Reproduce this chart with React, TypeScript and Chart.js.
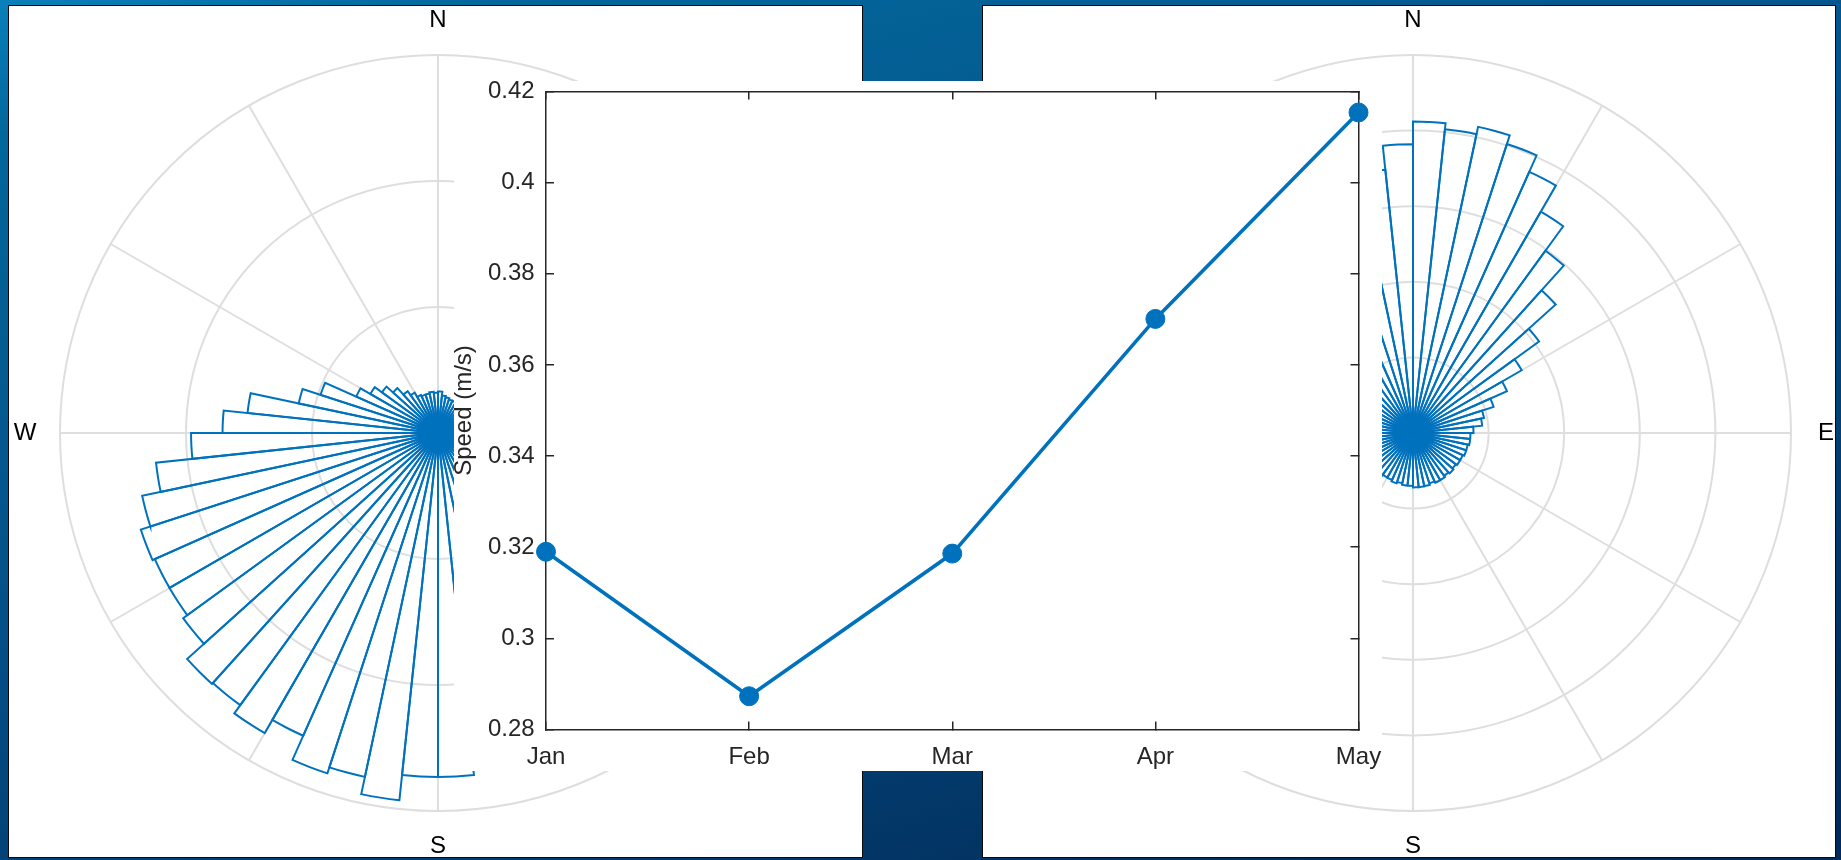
import React, { useEffect, useRef } from 'react';
import { Chart, registerables } from 'chart.js';

Chart.register(...registerables);
Chart.defaults.font.family = "'Liberation Sans', Arial, Helvetica, sans-serif";

// Monthly mean wind speed
const months = ['Jan', 'Feb', 'Mar', 'Apr', 'May'];
const meanSpeed = [0.319, 0.2873, 0.3186, 0.3701, 0.4154];
const speedTicks = [0.28, 0.3, 0.32, 0.34, 0.36, 0.38, 0.4, 0.42];

// Direction histograms: 60 bins of 6°, clockwise from north
const directionBins = Array.from({ length: 60 }, (_, i) => `${i * 6}°`);
const compassNames = ['N', 'E', 'S', 'W'];
const compassBins = [0, 15, 30, 45];

// Station A (mostly south-westerly)
const roseA = [
  3.3, 3.0, 2.9, 2.8, 2.8, 2.7, 2.7, 2.6, 2.6, 2.7,
  2.8, 2.9, 3.0, 3.1, 3.3, 3.5, 3.9, 4.4, 5.2, 6.3,
  7.8, 9.6, 11.8, 14.2, 16.9, 19.5, 21.8, 23.9, 25.6, 27.3,
  27.3, 29.3, 27.9, 28.4, 26.3, 27.5, 26.7, 26.8, 25.0, 24.6,
  24.6, 24.8, 24.0, 22.5, 19.6, 17.1, 15.2, 11.3, 9.8, 7.1,
  6.2, 5.5, 4.8, 4.1, 3.7, 3.3, 3.2, 3.2, 3.3, 3.2,
];
const roseARings = { max: 30, step: 10 };

// Station B (mostly north to north-easterly)
const roseB = [
  20.6, 20.2, 20.7, 20.1, 18.9, 16.9, 14.9, 12.7, 10.3, 8.3,
  6.8, 5.6, 4.8, 4.6, 4.0, 3.8, 3.8, 3.7, 3.7, 3.6,
  3.6, 3.5, 3.6, 3.5, 3.6, 3.6, 3.5, 3.6, 3.6, 3.6,
  3.5, 3.5, 3.4, 3.5, 3.4, 3.4, 3.5, 3.4, 3.5, 3.5,
  3.6, 3.6, 3.7, 3.7, 3.8, 3.9, 4.0, 4.2, 4.5, 5.0,
  5.6, 6.5, 7.6, 9.0, 10.6, 12.3, 14.1, 15.8, 17.5, 19.1,
];
const roseBRings = { max: 25, step: 5 };

const BLUE = '#0072BD';
const GRID = '#dedede';
const AXIS = '#262626';

const compassPlugin = {
  id: 'compassLabels',
  afterDraw(chart: any) {
    const r = chart.scales.r;
    const ctx = chart.ctx;
    ctx.save();
    ctx.font = "24px 'Liberation Sans', Arial, sans-serif";
    ctx.fillStyle = '#000';
    ctx.textAlign = 'center';
    ctx.textBaseline = 'middle';
    compassBins.forEach((idx, j) => {
      const p = r.getPointPosition(idx, r.drawingArea + 35);
      ctx.fillText(compassNames[j], p.x, p.y);
    });
    ctx.restore();
  },
};

function Rose({ values, rings, left, top }: { values: number[]; rings: { max: number; step: number }; left: number; top: number }) {
  const ref = useRef<HTMLCanvasElement>(null);
  useEffect(() => {
    const chart = new Chart(ref.current as HTMLCanvasElement, {
      type: 'polarArea',
      data: {
        labels: directionBins,
        datasets: [
          {
            data: values,
            backgroundColor: 'rgba(0,0,0,0)',
            borderColor: BLUE,
            borderWidth: 2,
            borderAlign: 'center',
            borderJoinStyle: 'miter',
          } as any,
        ],
      },
      options: {
        responsive: false,
        animation: false,
        layout: { padding: 62 },
        plugins: { legend: { display: false }, tooltip: { enabled: false } },
        scales: {
          r: {
            min: 0,
            max: rings.max,
            beginAtZero: true,
            startAngle: 0,
            ticks: { display: false, stepSize: rings.step },
            grid: { circular: true, color: GRID, lineWidth: 2 },
            angleLines: {
              display: true,
              color: GRID,
              lineWidth: (c: any) => (c.index % 5 === 0 ? 2 : 0),
            },
            pointLabels: { display: false, centerPointLabels: false },
          } as any,
        },
      },
      plugins: [compassPlugin],
    });
    return () => chart.destroy();
  }, []);
  return (
    <canvas
      ref={ref}
      width={880}
      height={880}
      style={{ position: 'absolute', left, top, width: 880, height: 880 }}
    />
  );
}

// fixes an axis' thickness and drops the overhang padding of its end labels
const fixSize = (prop: 'width' | 'height', size: number) => (s: any) => {
  s[prop] = size;
  s.paddingLeft = 0;
  s.paddingRight = 0;
  s.paddingTop = 0;
  s.paddingBottom = 0;
};

function SpeedChart() {
  const ref = useRef<HTMLCanvasElement>(null);
  useEffect(() => {
    const tickGrid = { drawOnChartArea: false, drawTicks: true, tickLength: -8, color: AXIS, lineWidth: 1.5 };
    const border = { display: true, color: AXIS, width: 1.5 };
    const setTicks = (s: any) => {
      s.ticks = speedTicks.map((v) => ({ value: v }));
    };
    const chart = new Chart(ref.current as HTMLCanvasElement, {
      type: 'line',
      data: {
        labels: months,
        datasets: [
          {
            data: meanSpeed,
            borderColor: BLUE,
            borderWidth: 3.6,
            pointRadius: 9.5,
            pointHoverRadius: 9.5,
            pointBackgroundColor: BLUE,
            pointBorderColor: BLUE,
            pointBorderWidth: 1,
            tension: 0,
            clip: false,
            xAxisID: 'x',
            yAxisID: 'y',
          } as any,
        ],
      },
      options: {
        responsive: false,
        animation: false,
        layout: { padding: { left: 0, right: 23.5, top: 9.7, bottom: 0 } },
        plugins: { legend: { display: false }, tooltip: { enabled: false } },
        scales: {
          x: {
            type: 'category',
            position: 'bottom',
            offset: false,
            grid: tickGrid,
            border,
            ticks: { color: AXIS, font: { size: 24 }, padding: 21, maxRotation: 0, autoSkip: false },
            afterFit: fixSize('height', 41.5),
          },
          xTop: {
            type: 'category',
            position: 'top',
            offset: false,
            grid: tickGrid,
            border,
            ticks: { display: false },
            afterFit: fixSize('height', 0),
          },
          y: {
            type: 'linear',
            position: 'left',
            min: 0.28,
            max: 0.42,
            afterBuildTicks: setTicks,
            grid: tickGrid,
            border,
            ticks: { color: AXIS, font: { size: 24 }, padding: 19.4, callback: (v: any) => String(v) },
            title: {
              display: true,
              text: 'Speed (m/s)',
              color: AXIS,
              font: { size: 24, lineHeight: 1.2 },
              padding: { top: -4, bottom: 0 },
            },
            afterFit: fixSize('width', 92),
          },
          yRight: {
            type: 'linear',
            position: 'right',
            min: 0.28,
            max: 0.42,
            afterBuildTicks: setTicks,
            grid: tickGrid,
            border,
            ticks: { display: false },
            afterFit: fixSize('width', 0),
          },
        } as any,
      },
    });
    return () => chart.destroy();
  }, []);
  return (
    <canvas
      ref={ref}
      width={928}
      height={690}
      style={{ position: 'absolute', left: 454, top: 81, width: 928, height: 690, background: '#fff' }}
    />
  );
}

const panel: React.CSSProperties = {
  position: 'absolute',
  top: 5,
  height: 853,
  boxSizing: 'border-box',
  border: '1px solid #0a0a0a',
  background: '#fff',
  overflow: 'hidden',
};

export default function App() {
  return (
    <div
      style={{
        position: 'fixed',
        left: 0,
        top: 0,
        width: 1841,
        height: 860,
        overflow: 'hidden',
        background:
          'linear-gradient(165deg, #0a80ba 0%, #03679b 10%, #045189 45%, #022e5c 90%, #01295a 100%)',
      }}
    >
      <div style={{ ...panel, left: 8, width: 855 }}>
        <Rose values={roseA} rings={roseARings} left={-11} top={-13} />
      </div>
      <div style={{ ...panel, left: 982, width: 854 }}>
        <Rose values={roseB} rings={roseBRings} left={-10} top={-13} />
      </div>
      <SpeedChart />
    </div>
  );
}
